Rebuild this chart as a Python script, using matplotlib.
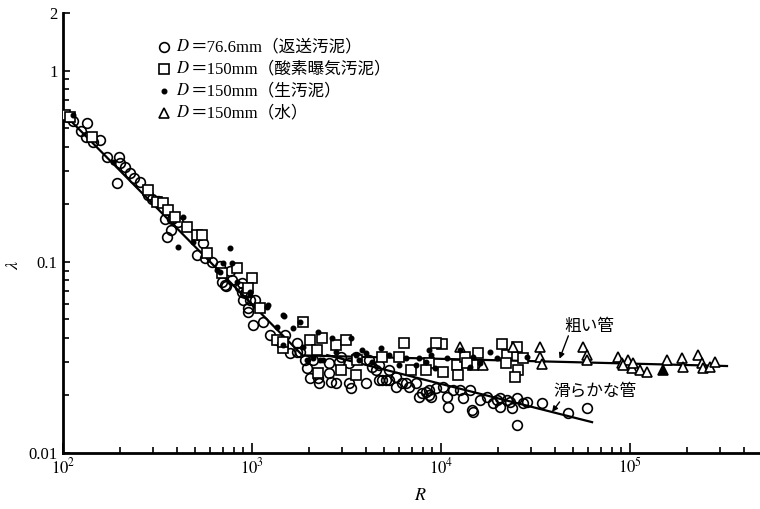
import matplotlib
matplotlib.use('Agg')
import matplotlib.pyplot as plt
from matplotlib.offsetbox import HPacker, TextArea, DrawingArea, AnchoredOffsetbox
from matplotlib.lines import Line2D
from matplotlib.ticker import FixedLocator, NullFormatter, FixedFormatter

SERIF = ['Liberation Serif', 'Noto Sans CJK JP']
plt.rcParams['font.family'] = SERIF
plt.rcParams['mathtext.fontset'] = 'stix'

# ---------------- data ----------------
# D=76.6mm (返送汚泥) - open circles
circ_R = [106, 113, 125, 134, 132, 144, 157, 171, 198, 200, 193, 213, 226, 238, 256, 282, 296, 318,
          356, 347, 378, 406, 373, 512, 551, 565, 615, 677, 765, 785, 729, 865, 919, 694, 720, 886,
          897, 977, 1038, 953, 886, 953, 1013, 1143, 1244, 1354, 1492, 1725, 1947, 2100, 2224, 2251,
          2570, 2634, 2799, 3276, 3357, 2903, 3276, 3565, 4021, 4167, 4534, 4700, 5118, 5305, 5771,
          6201, 6749, 7350, 7896, 8590, 8903, 10250, 10760, 10890, 11580, 13080, 14240, 14770, 16070,
          17500, 18810, 20480, 23110, 25170, 27080, 25170, 28430, 34240, 47190, 59200, 4875, 5771,
          6511, 8288, 9460, 12610, 14590, 19750, 22290, 23680, 20480, 2019, 1725, 1789, 1585, 1900,
          2570, 2975, 4318, 4700, 5305, 7617, 8590]
circ_lam = [0.574, 0.547, 0.485, 0.534, 0.451, 0.425, 0.435, 0.355, 0.355, 0.330, 0.259, 0.314, 0.292,
            0.275, 0.262, 0.224, 0.214, 0.209, 0.135, 0.168, 0.168, 0.162, 0.147, 0.109, 0.126, 0.105,
            0.100, 0.095, 0.089, 0.0805, 0.0748, 0.074, 0.0688, 0.0786, 0.0758, 0.0697, 0.0632, 0.0632,
            0.0632, 0.0574, 0.0776, 0.0547, 0.0468, 0.0485, 0.0415, 0.0391, 0.0415, 0.0338, 0.0279,
            0.0307, 0.0247, 0.0233, 0.0262, 0.0235, 0.0233, 0.0233, 0.0219, 0.0300, 0.0296, 0.0318,
            0.0233, 0.0307, 0.0272, 0.0289, 0.0241, 0.0272, 0.0250, 0.0233, 0.0222, 0.0233, 0.0206,
            0.0214, 0.0196, 0.0222, 0.0196, 0.0174, 0.0214, 0.0194, 0.0214, 0.0164, 0.0189, 0.0196,
            0.0183, 0.0194, 0.0185, 0.0194, 0.0183, 0.0140, 0.0185, 0.0183, 0.0162, 0.0172, 0.0241,
            0.0222, 0.0233, 0.0209, 0.0219, 0.0214, 0.0168, 0.0189, 0.0189, 0.0172, 0.0174, 0.0247,
            0.0377, 0.0338, 0.0334, 0.0307, 0.0296, 0.0318, 0.0282, 0.0241, 0.0241, 0.0196, 0.0201]

# D=150mm (酸素曝気汚泥) - open squares
sq_R = [102.5, 109, 142, 282, 315, 339, 360, 392, 454, 512, 544, 579, 694, 834, 1001, 953, 1102, 1354,
        1456, 1855, 2019, 2335, 2197, 2799, 3161, 2224, 2975, 3565, 3609, 4875, 6354, 5983, 6915, 8590,
        10120, 10250, 12150, 12300, 13400, 15680, 14770, 20990, 22290, 25170, 25480, 27080, 24560, 8288,
        1456, 9460, 13730, 22020]
sq_lam = [0.588, 0.574, 0.451, 0.238, 0.206, 0.204, 0.187, 0.172, 0.1525, 0.1385, 0.1385, 0.1115,
          0.0876, 0.0930, 0.0824, 0.0731, 0.0574, 0.0391, 0.0355, 0.0485, 0.0391, 0.0400, 0.0346,
          0.0368, 0.0391, 0.0262, 0.0272, 0.0256, 0.0307, 0.0318, 0.0377, 0.0318, 0.0272, 0.0296,
          0.0372, 0.0266, 0.0289, 0.0256, 0.0318, 0.0334, 0.0289, 0.0372, 0.0326, 0.0359, 0.0272,
          0.0314, 0.0250, 0.0272, 0.0381, 0.0377, 0.0296, 0.0296]

# D=150mm (生汚泥) - filled dots
dot_R = [113, 184, 432, 406, 487, 765, 703, 654, 677, 785, 834, 977, 977, 1199, 1214, 1456, 1474, 1354,
         1643, 1789, 2224, 2666, 3357, 3830, 4816, 5305, 6511, 7617, 8590, 10760, 12610, 18140, 19750,
         28430, 1456, 1947, 2279, 3695, 4318, 5983, 7350, 9346, 14240, 1855, 2799, 8903, 16070, 14770,
         3565, 4021, 8288, 2363, 2100]
dot_lam = [0.588, 0.334, 0.172, 0.120, 0.127, 0.118, 0.0988, 0.0908, 0.0886, 0.0988, 0.0786, 0.0697,
           0.0672, 0.0581, 0.0596, 0.0528, 0.0522, 0.0457, 0.0451, 0.0485, 0.0430, 0.0400, 0.0400,
           0.0346, 0.0355, 0.0326, 0.0314, 0.0314, 0.0346, 0.0314, 0.0346, 0.0338, 0.0314, 0.0318,
           0.0368, 0.0307, 0.0307, 0.0307, 0.0300, 0.0289, 0.0289, 0.0279, 0.0282, 0.0359, 0.0338,
           0.0326, 0.0296, 0.0318, 0.0326, 0.0334, 0.0300, 0.0307, 0.0314]

# D=150mm (水) - open triangles
tri_R = [12610, 16670, 23970, 33410, 33410, 34240, 56400, 59200, 59200, 86430, 90700, 97590, 102500,
         112900, 123000, 157000, 188500, 190800, 229000, 240400, 243400, 265000, 281700, 91800, 103700]
tri_lam = [0.0359, 0.0289, 0.0359, 0.0359, 0.0318, 0.0292, 0.0359, 0.0326, 0.0307, 0.0318, 0.0296,
           0.0307, 0.0279, 0.0272, 0.0266, 0.0307, 0.0314, 0.0282, 0.0326, 0.0296, 0.0279, 0.0282,
           0.0300, 0.0289, 0.0296]
tri_fill_R = [149500]
tri_fill_lam = [0.0272]

# curves
rough_R = [100, 1850, 326000]
rough_lam = [0.60, 0.0324, 0.0285]
smooth_R = [2500, 63000]
smooth_lam = [0.0325, 0.0145]

legend_labels = ['＝76.6mm（返送汚泥）', '＝150mm（酸素曝気汚泥）', '＝150mm（生汚泥）', '＝150mm（水）']

x_ticks = [1e2, 1e3, 1e4, 1e5]
x_ticklabels = ['$10^{2}$', '$10^{3}$', '$10^{4}$', '$10^{5}$']
y_ticks = [0.01, 0.1, 1, 2]
y_ticklabels = ['0.01', '0.1', '1', '2']

# ---------------- figure ----------------
W, H = 760, 509
fig = plt.figure(figsize=(W / 100, H / 100), dpi=100)
ax = fig.add_axes([63 / W, 56 / H, 1 - 63 / W, 440 / H])
ax.set_xscale('log')
ax.set_yscale('log')
ax.set_xlim(100, 10 ** (2 + 697 / 189))
ax.set_ylim(0.01, 2)

ax.plot(rough_R, rough_lam, color='black', lw=1.6, zorder=2)
ax.plot(smooth_R, smooth_lam, color='black', lw=1.6, zorder=2)

ms = 7
ax.plot(circ_R, circ_lam, 'o', ls='none', mfc='none', mec='black', ms=ms, mew=1.2, zorder=3)
ax.plot(sq_R, sq_lam, 's', ls='none', mfc='white', mec='black', ms=ms - 0.5, mew=1.2, zorder=3)
ax.plot(dot_R, dot_lam, 'o', ls='none', mfc='black', mec='black', ms=3.3, zorder=4)
ax.plot(tri_R, tri_lam, '^', ls='none', mfc='white', mec='black', ms=ms, mew=1.2, zorder=3)
ax.plot(tri_fill_R, tri_fill_lam, '^', ls='none', mfc='black', mec='black', ms=ms, mew=1.2, zorder=3)

# axes styling
for s in ['top', 'right']:
    ax.spines[s].set_visible(False)
for s in ['left', 'bottom']:
    ax.spines[s].set_linewidth(2)

ax.xaxis.set_major_locator(FixedLocator(x_ticks))
ax.xaxis.set_major_formatter(FixedFormatter(x_ticklabels))
ax.xaxis.set_minor_locator(FixedLocator([m * d for d in [1e2, 1e3, 1e4, 1e5] for m in range(2, 10)]))
ax.xaxis.set_minor_formatter(NullFormatter())
ax.yaxis.set_major_locator(FixedLocator(y_ticks))
ax.yaxis.set_major_formatter(FixedFormatter(y_ticklabels))
ax.yaxis.set_minor_locator(FixedLocator([m * d for d in [0.01, 0.1] for m in range(2, 10)]))
ax.yaxis.set_minor_formatter(NullFormatter())
ax.tick_params(which='both', direction='in', top=False, right=False, width=1.2)
ax.tick_params(axis='x', which='major', length=7, pad=3, labelsize=12)
ax.tick_params(axis='x', which='minor', length=4)
ax.tick_params(axis='y', which='major', length=5, pad=4, labelsize=12)
ax.tick_params(axis='y', which='minor', length=4)

fig.text(420 / W, 1 - 496 / H, '$R$', fontsize=13, ha='center', va='center')
fig.text(13 / W, 1 - 265 / H, r'$\lambda$', fontsize=13, ha='center', va='center', rotation=90)

# legend
markers = [dict(marker='o', mfc='none', mec='black', ms=ms, mew=1.2),
           dict(marker='s', mfc='white', mec='black', ms=ms - 0.5, mew=1.2),
           dict(marker='o', mfc='black', mec='black', ms=3.3),
           dict(marker='^', mfc='white', mec='black', ms=ms, mew=1.2)]
row_y = [47, 69, 91, 113]
for lab, mk, yy in zip(legend_labels, markers, row_y):
    da = DrawingArea(10, 10, 0, 0)
    da.add_artist(Line2D([5], [5], ls='none', **mk))
    t1 = TextArea('$D$', textprops=dict(fontsize=12))
    t2 = TextArea(lab, textprops=dict(fontsize=12, family=SERIF))
    txt = HPacker(children=[t1, t2], align='baseline', pad=0, sep=0)
    box = HPacker(children=[da, txt], align='center', pad=0, sep=4)
    ab = AnchoredOffsetbox(loc='center left', child=box, pad=0, borderpad=0, frameon=False,
                           bbox_to_anchor=(157 / W, 1 - yy / H), bbox_transform=fig.transFigure)
    fig.add_artist(ab)

# annotations
ax.text(60600, 0.0457, '粗い管', fontsize=12, ha='center', va='center', family=SERIF)
ax.annotate('', xy=(42400, 0.0311), xytext=(47190, 0.041),
            arrowprops=dict(arrowstyle='-|>', lw=1, color='black', mutation_scale=8, shrinkA=0, shrinkB=0))
ax.text(65300, 0.0209, '滑らかな管', fontsize=12, ha='center', va='center', family=SERIF)
ax.annotate('', xy=(38700, 0.0164), xytext=(42400, 0.0185),
            arrowprops=dict(arrowstyle='-|>', lw=1, color='black', mutation_scale=8, shrinkA=0, shrinkB=0))

fig.savefig('out.png', dpi=100)
